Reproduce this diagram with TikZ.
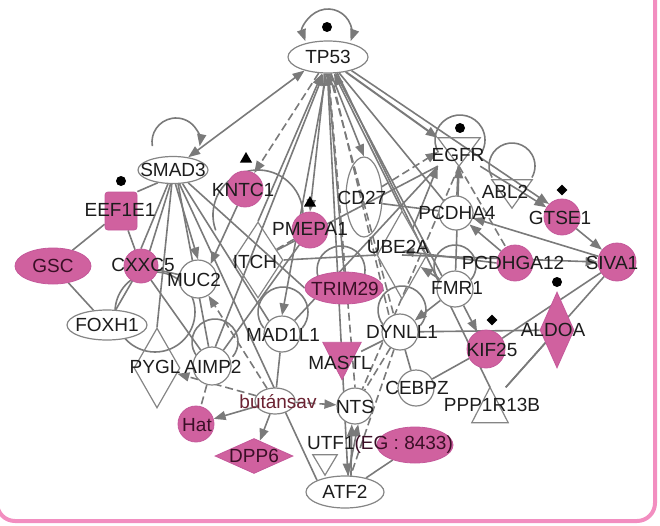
\documentclass[tikz,border=0pt]{standalone}
\usepackage{fontspec}
\setmainfont{Liberation Sans}
\usetikzlibrary{shapes.geometric,arrows.meta}
\pgfdeclarelayer{bg}
\pgfsetlayers{bg,main}
\definecolor{eg}{HTML}{7A7A7A}
\definecolor{nb}{HTML}{858585}
\definecolor{pk}{HTML}{D0619F}
\definecolor{pkb}{HTML}{C4589A}
\definecolor{framec}{HTML}{F28EC0}
\definecolor{tx}{HTML}{1C1C1C}
\definecolor{txp}{HTML}{3A0F26}
\definecolor{txb}{HTML}{6B2232}
\tikzset{
  ln/.style={draw=eg, line width=1.6pt},
  arr/.style={-{Triangle[length=12pt,width=9pt]}},
  rarr/.style={{Triangle[length=12pt,width=9pt]}-},
  barr/.style={{Triangle[length=12pt,width=9pt]}-{Triangle[length=12pt,width=9pt]}},
  dsh/.style={dash pattern=on 8pt off 4pt},
  wn/.style={draw=nb, line width=1.2pt, fill=white, inner sep=0pt},
  wo/.style={draw=nb, line width=1.2pt, inner sep=0pt},
  pn/.style={draw=pkb, line width=0.8pt, fill=pk, inner sep=0pt},
  tribox/.style={draw=none, inner sep=0pt, rectangle},
  lab/.style={font=\fontsize{19}{19}\selectfont, text=tx, inner sep=0pt},
  labp/.style={lab, text=txp},
  dotm/.style={fill=black, inner sep=0pt},
}
\begin{document}
\begin{tikzpicture}[x=1pt,y=-1pt]
\useasboundingbox (0,0) rectangle (660,525);
\draw[framec, line width=4pt, rounded corners=18pt] (-3,-40) rectangle (655,521);

% ---------- nodes (shapes) ----------
\node[wn, ellipse, minimum width=80pt, minimum height=32pt] (tp53) at (328,57) {};
\node[wn, ellipse, minimum width=70pt, minimum height=27pt] (smad3) at (173,170) {};
\node[pn, rectangle, rounded corners=3pt, minimum width=32pt, minimum height=38pt] (eef1e1) at (121,211) {};
\node[pn, circle, minimum size=36pt] (kntc1) at (245,189) {};
\node[pn, circle, minimum size=36pt] (pmepa1) at (310,230) {};
\node[wo, ellipse, minimum width=36pt, minimum height=80pt] (cd27) at (364,197) {};
\node[wo, diamond, minimum width=50pt, minimum height=76pt] (itch) at (258,260) {};
\node[tribox, minimum width=42pt, minimum height=28pt] (egfr) at (459,152) {};
\node[tribox, minimum width=40pt, minimum height=28pt] (abl2) at (512,194) {};
\node[pn, circle, minimum size=36pt] (gtse1) at (562,217) {};
\node[pn, circle, minimum size=38pt] (siva1) at (617,262) {};
\node[wn, circle, minimum size=34pt] (pcdha4) at (456,213) {};
\node[pn, circle, minimum size=36pt] (pcdhga12) at (515,263) {};
\node[wo, diamond, minimum width=50pt, minimum height=88pt] (ube2a) at (402,255) {};
\node[wn, circle, minimum size=36pt] (fmr1) at (455,289) {};
\node[pn, ellipse, minimum width=78pt, minimum height=32pt] (trim29) at (344,288) {};
\node[wn, circle, minimum size=36pt] (dynll1) at (400,332) {};
\node[wn, circle, minimum size=36pt] (mad1l1) at (282,334) {};
\node[tribox, minimum width=38pt, minimum height=37pt] (mastl) at (342,361) {};
\node[wn, circle, minimum size=36pt] (cebpz) at (416,388) {};
\node[pn, circle, minimum size=38pt] (kif25) at (486,349) {};
\node[pn, diamond, minimum width=34pt, minimum height=76pt] (aldoa) at (557,330) {};
\node[tribox, minimum width=36pt, minimum height=35pt] (ppp1r13b) at (490,405) {};
\node[wn, circle, minimum size=36pt] (nts) at (355,406) {};
\node[pn, ellipse, minimum width=76pt, minimum height=36pt] (utf1) at (415,445) {};
\node[tribox, minimum width=24pt, minimum height=20pt] (utfk) at (325,465) {};
\node[wn, ellipse, minimum width=78pt, minimum height=32pt] (atf2) at (345,492) {};
\node[wn, ellipse, minimum width=40pt, minimum height=26pt] (butansav) at (275,401) {};
\node[pn, circle, minimum size=36pt] (hat) at (196,424) {};
\node[pn, diamond, minimum width=78pt, minimum height=35pt] (dpp6) at (254,456) {};
\node[wn, circle, minimum size=38pt] (aimp2) at (212,366) {};
\node[wo, diamond, minimum width=46pt, minimum height=80pt] (pygl) at (157,368) {};
\node[wn, ellipse, minimum width=80pt, minimum height=30pt] (foxh1) at (107,325) {};
\node[pn, ellipse, minimum width=76pt, minimum height=36pt] (gsc) at (53,266) {};
\node[pn, circle, minimum size=34pt] (cxxc5) at (141,266) {};
\node[wn, circle, minimum size=38pt] (muc2) at (198,279) {};

% triangle shapes drawn from their boxes
\draw[wo] (egfr.north west) -- (egfr.north east) -- (egfr.south) -- cycle;
\draw[wo] (abl2.north west) -- (abl2.north east) -- (abl2.south) -- cycle;
\draw[pn] (mastl.north west) -- (mastl.north east) -- (mastl.south) -- cycle;
\draw[wo] (ppp1r13b.south west) -- (ppp1r13b.south east) -- (ppp1r13b.north) -- cycle;
\draw[wo] (utfk.north west) -- (utfk.north east) -- (utfk.south) -- cycle;

% ---------- connectors and loops (behind) ----------
\begin{pgfonlayer}{bg}
% self loops
\draw[ln, barr] (328,33) ++(160:24) arc[start angle=160, end angle=380, radius=24];
\draw[ln, arr] (176,142) ++(170:24) arc[start angle=170, end angle=370, radius=24];
\draw[ln] (460,140) ++(150:25) arc[start angle=150, end angle=390, radius=25];
\draw[ln] (512,166) ++(150:23) arc[start angle=150, end angle=390, radius=23];
\draw[ln] (455,266) ++(140:21) arc[start angle=140, end angle=400, radius=21];
\draw[ln] (402,310) ++(140:24) arc[start angle=140, end angle=400, radius=24];
\draw[ln] (283,312) ++(140:25) arc[start angle=140, end angle=400, radius=25];
\draw[ln] (215,342) ++(140:23) arc[start angle=140, end angle=400, radius=23];
\draw[ln] (341,270) ++(150:24) arc[start angle=150, end angle=390, radius=24];
\draw[ln] (258,215) ++(160:45) arc[start angle=160, end angle=390, radius=45];
\draw[ln] (155,312) circle[radius=40];

% TP53 fan
\draw[ln, barr] (tp53.-150) -- (smad3.40);
\draw[ln, arr, dsh] (tp53.-120) -- (kntc1.60);
\draw[ln, rarr] (tp53.-110) -- (itch.north);
\draw[ln, arr] (tp53.-100) -- (pmepa1.north);
\draw[ln, rarr] (tp53.-105) -- (aimp2.80);
\draw[ln, arr] (tp53.-80) -- (cd27.north);
\draw[ln, rarr] (tp53.-90) -- (trim29.north);
\draw[ln, arr] (tp53.-95) -- (mad1l1.north);
\draw[ln, dsh] (tp53.-85) -- (dynll1.110);
\draw[ln, dsh] (tp53.-80) -- (dynll1.125);
\draw[ln, dsh] (tp53.-88) -- (nts.north);
\draw[ln, arr] (tp53.-92) -- (atf2.80);
\draw[ln, rarr] (tp53.-70) -- (ube2a.north);
\draw[ln] (tp53.-65) -- (fmr1.north west);
\draw[ln] (tp53.-55) -- (pcdha4.north west);
\draw[ln, arr, line width=2pt] (tp53.-40) -- (egfr.north west);
\draw[ln, arr] (tp53.-30) -- (gtse1.north west);
\draw[ln] (tp53.-60) -- (ppp1r13b.north);
% SMAD3
\draw[ln] (smad3.-140) -- (eef1e1.north east);
\draw[ln] (smad3.-110) -- (cxxc5.north);
\draw[ln] (smad3.-100) -- (cxxc5.60);
\draw[ln, arr] (smad3.-80) -- (muc2.north);
\draw[ln] (smad3.-95) -- (pygl.north);
\draw[ln] (smad3.-70) -- (aimp2.100);
\draw[ln] (smad3.-55) -- (mad1l1.north west);
\draw[ln] (smad3.-40) -- (trim29.west);
\draw[ln] (smad3.-65) -- (atf2.north west);
% left cluster
\draw[ln] (eef1e1) -- (gsc);
\draw[ln] (eef1e1) -- (cxxc5);
\draw[ln] (gsc) -- (foxh1);
\draw[ln] (cxxc5) -- (foxh1);
\draw[ln] (cxxc5) -- (muc2);
\draw[ln] (cxxc5) -- (aimp2);
\draw[ln, arr] (kntc1) -- (muc2.50);
\draw[ln, dsh] (pmepa1) -- (itch);
\draw[ln] (pmepa1) -- (aimp2);
% CD27 / EGFR
\draw[ln, arr, dsh] (cd27.30) -- (egfr.west);
\draw[ln] (cd27.-20) -- (pcdha4);
\draw[ln] (egfr) -- (pcdha4);
\draw[ln, dsh] (egfr.south) -- (pcdhga12);
\draw[ln] (egfr.south west) -- (itch);
\draw[ln, dsh] (egfr.south) -- (nts);
\draw[ln] (egfr.south west) -- (mad1l1);
\draw[ln, arr] (fmr1) -- (egfr.south);
\draw[ln, arr] (ube2a) -- (egfr.south west);
\draw[ln, arr] (egfr.south east) -- (gtse1);
\draw[ln, arr] (gtse1) -- (siva1);
\draw[ln, arr] (siva1) -- (pcdha4);
\draw[ln, arr] (pcdhga12) -- (pcdha4);
\draw[ln] (itch.east) -- (ube2a.west);
\draw[ln, arr] (ube2a.center) -- (siva1.west);
\draw[ln, arr] (pcdhga12.west) -- ([yshift=4pt]ube2a.center);
\draw[ln, arr] (fmr1) -- (ube2a);
\draw[ln] (siva1) -- (kif25);
\draw[ln] (siva1) -- (ppp1r13b);
\draw[ln] (aldoa) -- (dynll1);
\draw[ln] (aldoa) -- (ppp1r13b);
\draw[ln, arr] (fmr1) -- (kif25);
\draw[ln] (kif25) -- (cebpz);
\draw[ln] (dynll1) -- (cebpz);
\draw[ln] (dynll1) -- (mastl);
\draw[ln, arr] (fmr1) -- (dynll1);
\draw[ln, dsh] (dynll1) -- (nts);
\draw[ln, dsh] (dynll1) -- (atf2);
\draw[ln, arr, dsh] (butansav) -- (nts);
\draw[ln, arr] (atf2.70) -- (nts.-100);
\draw[ln, arr] (atf2.80) -- (nts.-80);
\draw[ln] (utf1) -- (atf2);
\draw[ln] (mad1l1) -- (butansav);
\draw[ln, arr] (butansav) -- (hat);
\draw[ln, arr] (butansav) -- (dpp6);
\draw[ln, arr, dsh] (butansav) -- (pygl);
\draw[ln, arr, dsh] (butansav) -- (muc2);
\draw[ln, dsh] (aimp2) -- (hat);
\end{pgfonlayer}

% ---------- markers ----------
\node[dotm, circle, minimum size=10pt] (m1) at (327,27) {};
\node[dotm, circle, minimum size=10pt] (m2) at (121,181) {};
\node[dotm, circle, minimum size=10pt] (m3) at (460,128) {};
\node[dotm, circle, minimum size=10pt] (m4) at (557,282) {};
\node[dotm, regular polygon, regular polygon sides=3, minimum size=14pt] (m5) at (246,159) {};
\node[dotm, regular polygon, regular polygon sides=3, minimum size=14pt] (m6) at (310,203) {};
\node[dotm, diamond, minimum size=11pt] (m7) at (562,190) {};
\node[dotm, diamond, minimum size=11pt] (m8) at (492,320) {};

% ---------- labels ----------
\node[lab] (l1) at (328,57) {TP53};
\node[lab] (l2) at (173,170) {SMAD3};
\node[lab] (l3) at (120,210) {EEF1E1};
\node[lab] (l4) at (243,190) {KNTC1};
\node[lab] (l5) at (310,229) {PMEPA1};
\node[lab] (l6) at (362,198) {CD27};
\node[lab] (l7) at (255,262) {ITCH};
\node[lab] (l8) at (458,155) {EGFR};
\node[lab] (l9) at (505,192) {ABL2};
\node[lab] (l10) at (560,218) {GTSE1};
\node[lab] (l11) at (612,263) {SIVA1};
\node[lab] (l12) at (457,213) {PCDHA4};
\node[lab] (l13) at (513,263) {PCDHGA12};
\node[lab] (l14) at (398,247) {UBE2A};
\node[lab] (l15) at (457,288) {FMR1};
\node[labp] (l16) at (345,289) {TRIM29};
\node[lab] (l17) at (402,332) {DYNLL1};
\node[lab] (l18) at (283,335) {MAD1L1};
\node[lab] (l19) at (340,363) {MASTL};
\node[lab] (l20) at (417,388) {CEBPZ};
\node[lab] (l21) at (492,350) {KIF25};
\node[lab] (l22) at (553,330) {ALDOA};
\node[lab] (l23) at (492,405) {PPP1R13B};
\node[lab] (l24) at (355,407) {NTS};
\node[lab] (l25) at (380,445) {UTF1\textcolor{txp}{(EG : 8433)}};
\node[lab] (l26) at (345,492) {ATF2};
\node[lab, text=txb] (l27) at (278,402) {butánsav};
\node[labp] (l28) at (197,425) {Hat};
\node[labp] (l29) at (254,456) {DPP6};
\node[lab] (l30) at (213,367) {AIMP2};
\node[lab] (l31) at (155,367) {PYGL};
\node[lab] (l32) at (107,325) {FOXH1};
\node[labp] (l33) at (53,266) {GSC};
\node[lab] (l34) at (143,265) {CXXC5};
\node[lab] (l35) at (194,280) {MUC2};
\end{tikzpicture}
\end{document}
